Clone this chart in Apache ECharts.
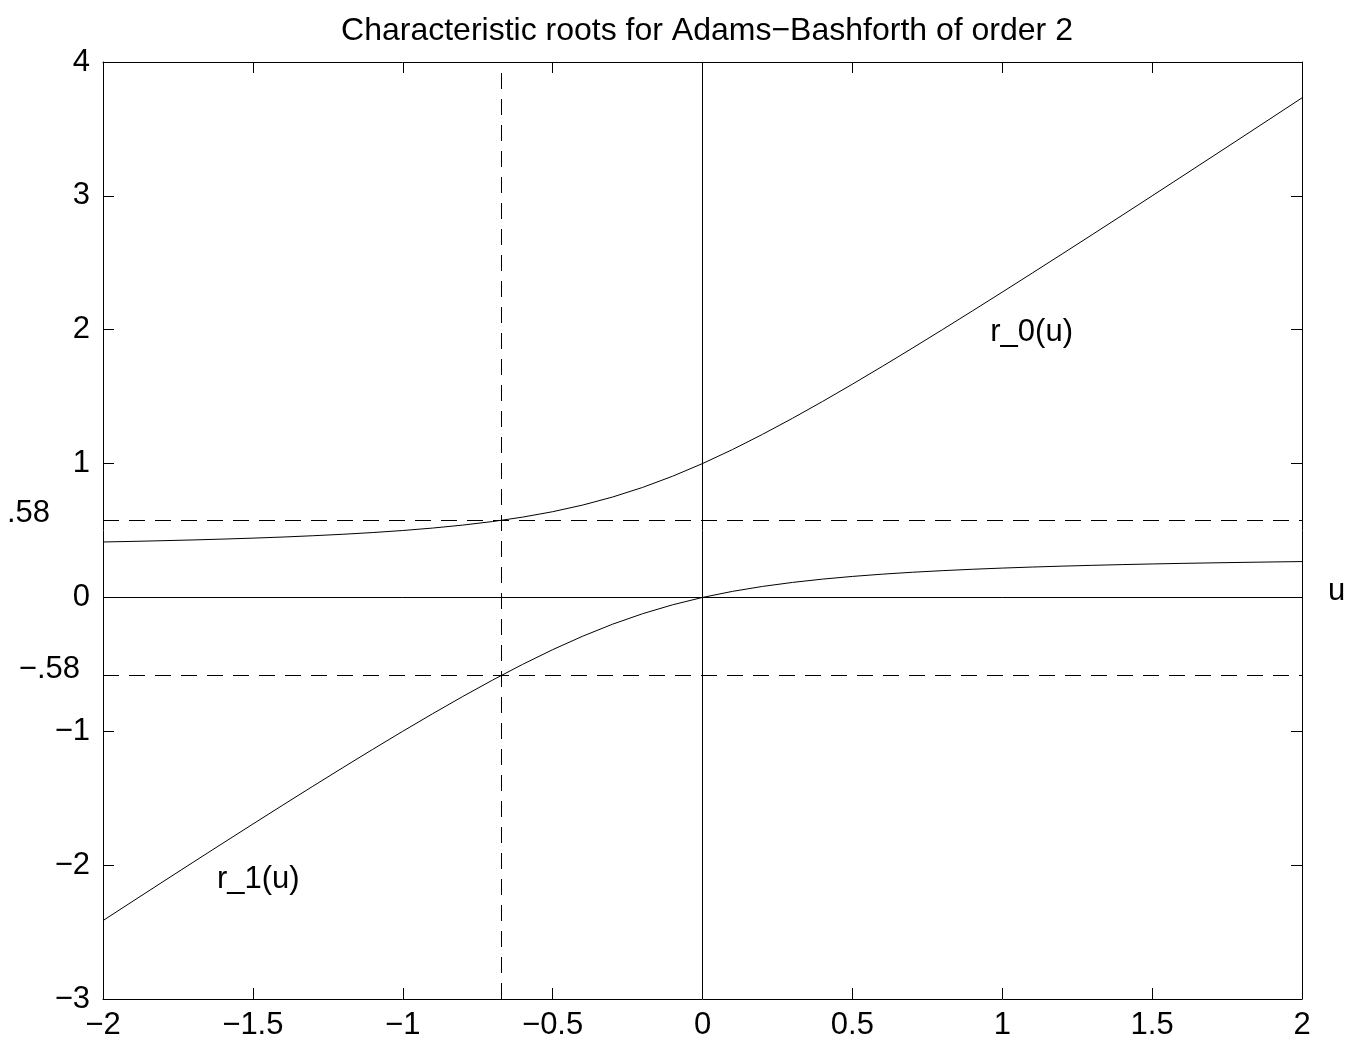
<!DOCTYPE html>
<html>
<head>
<meta charset="utf-8">
<script src="https://cdn.jsdelivr.net/npm/echarts@6/dist/echarts.min.js"></script>
<style>html,body{margin:0;padding:0;background:#fff}#c{width:1360px;height:1044px}</style>
</head>
<body>
<div id="c"></div>
<script>
// Data
var u  = [-2.0,-1.9,-1.8,-1.7,-1.6,-1.5,-1.4,-1.3,-1.2,-1.1,-1.0,-0.9,-0.8,-0.7,-0.6,-0.5,-0.4,-0.3,-0.2,-0.1,0.0,0.1,0.2,0.3,0.4,0.5,0.6,0.7,0.8,0.9,1.0,1.1,1.2,1.3,1.4,1.5,1.6,1.7,1.8,1.9,2.0];
var r0 = [0.4142,0.4187,0.4238,0.4294,0.4358,0.4430,0.4512,0.4608,0.4718,0.4847,0.5000,0.5183,0.5403,0.5671,0.6000,0.6404,0.6899,0.7500,0.8217,0.9052,1.0000,1.1047,1.2179,1.3379,1.4633,1.5931,1.7262,1.8620,2.0000,2.1397,2.2808,2.4230,2.5662,2.7102,2.8548,3.0000,3.1457,3.2918,3.4383,3.5850,3.7321];
var r1 = [-2.4142,-2.2687,-2.1238,-1.9794,-1.8358,-1.6930,-1.5512,-1.4108,-1.2718,-1.1347,-1.0000,-0.8683,-0.7403,-0.6171,-0.5000,-0.3904,-0.2899,-0.2000,-0.1217,-0.0552,0.0000,0.0453,0.0821,0.1121,0.1367,0.1569,0.1738,0.1880,0.2000,0.2103,0.2192,0.2270,0.2338,0.2398,0.2452,0.2500,0.2543,0.2582,0.2617,0.2650,0.2679];
var dashX = [-0.6667];
var dashY = [0.58, -0.58];
var dashYLabels = ['.58', '\u2212.58'];
var curveLabels = [{text: 'r_0(u)', at: [0.96, 1.98]}, {text: 'r_1(u)', at: [-1.62, -2.11]}];
var titleText = 'Characteristic roots for Adams\u2212Bashforth of order 2';
var xLabelText = 'u';

var FONT = 'Liberation Sans, Arial, Helvetica, sans-serif';
var FS = 31;
function fmt(v){ return String(v).replace('-', '\u2212'); }

var chart = echarts.init(document.getElementById('c'), null, {renderer:'canvas'});
var axisLine = {show:true, onZero:false, lineStyle:{color:'#000', width:1}};
var tick = {show:true, inside:true, length:11, lineStyle:{color:'#000', width:1}};
function pairs(xs, ys){ return xs.map(function(x,i){return [x, ys[i]];}); }

var option = {
  animation:false,
  backgroundColor:'#fff',
  title:{text:titleText, left:702, textAlign:'center', top:10,
    textStyle:{fontFamily:FONT, fontSize:32, fontWeight:'normal', color:'#000'}},
  grid:{left:103, right:58, top:62, bottom:45, show:false},
  xAxis:[
    {type:'value', min:-2, max:2, interval:0.5, position:'bottom',
     axisLine:axisLine, axisTick:tick, splitLine:{show:false},
     axisLabel:{show:true, margin:11, color:'#000', fontFamily:FONT, fontSize:FS, formatter:fmt}},
    {type:'value', min:-2, max:2, interval:0.5, position:'top',
     axisLine:axisLine, axisTick:tick, splitLine:{show:false}, axisLabel:{show:false}}
  ],
  yAxis:[
    {type:'value', min:-3, max:4, interval:1, position:'left',
     axisLine:axisLine, axisTick:tick, splitLine:{show:false},
     axisLabel:{show:true, margin:13, color:'#000', fontFamily:FONT, fontSize:FS, formatter:fmt}},
    {type:'value', min:-3, max:4, interval:1, position:'right',
     axisLine:axisLine, axisTick:tick, splitLine:{show:false}, axisLabel:{show:false}}
  ],
  series:[
    {type:'line', name:'r0', data:pairs(u, r0), showSymbol:false, symbol:'none',
     lineStyle:{color:'#000', width:1}, silent:true,
     markLine:{silent:true, symbol:['none','none'], label:{show:false},
       lineStyle:{color:'#000', width:1, type:'solid'},
       data:[{xAxis:0},{yAxis:0}]}},
    {type:'line', name:'r1', data:pairs(u, r1), showSymbol:false, symbol:'none',
     lineStyle:{color:'#000', width:1}, silent:true,
     markLine:{silent:true, symbol:['none','none'], label:{show:false},
       lineStyle:{color:'#000', width:1, type:[16,10]},
       data:dashX.map(function(v){return {xAxis:v};}).concat(dashY.map(function(v){return {yAxis:v};}))}}
  ]
};
chart.setOption(option);

function px(pt){ return chart.convertToPixel({xAxisIndex:0, yAxisIndex:0}, pt); }
var g = [];
var textStyle = function(t, align){ return {text:t, font:FS+'px '+FONT, fill:'#000', textAlign:align, textVerticalAlign:'middle'}; };
var gridLeft = px([-2, 0])[0];
var gridRight = px([2, 0])[0];
dashY.forEach(function(v, i){
  var p = px([-2, v]);
  var off = (i === 0) ? 53 : 23;
  g.push({type:'text', x:gridLeft - off, y:p[1] - 6, style:textStyle(dashYLabels[i], 'right')});
});
var p0 = px([2, 0]);
g.push({type:'text', x:gridRight + 26, y:p0[1] - 6, style:textStyle(xLabelText, 'left')});
curveLabels.forEach(function(c){
  var p = px(c.at);
  g.push({type:'text', x:p[0], y:p[1], style:textStyle(c.text, 'left')});
});
chart.setOption({graphic:{elements:g}});
</script>
</body>
</html>
